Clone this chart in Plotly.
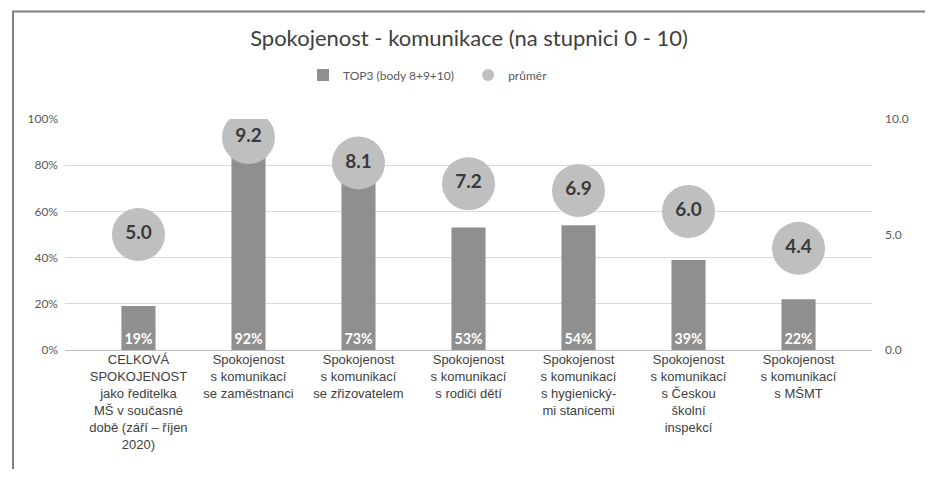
import plotly.graph_objects as go

categories = [
    "CELKOVÁ<br>SPOKOJENOST<br>jako ředitelka<br>MŠ v současné<br>době (září – říjen<br>2020)",
    "Spokojenost<br>s komunikací<br>se zaměstnanci",
    "Spokojenost<br>s komunikací<br>se zřizovatelem",
    "Spokojenost<br>s komunikací<br>s rodiči dětí",
    "Spokojenost<br>s komunikací<br>s hygienický-<br>mi stanicemi",
    "Spokojenost<br>s komunikací<br>s Českou<br>školní<br>inspekcí",
    "Spokojenost<br>s komunikací<br>s MŠMT",
]
top3 = [0.19, 0.92, 0.73, 0.53, 0.54, 0.39, 0.22]
prumer = [5.0, 9.2, 8.1, 7.2, 6.9, 6.0, 4.4]

# page body has an 8px margin; work in reference (viewport) pixels
OFF = 8
VW, VH = 933, 477
W, H = VW - 2 * OFF, VH - 2 * OFF
# plot area in viewport pixels
PL, PR, PT, PB = 65, 872, 119, 350
ml, mr, mt, mb = PL - OFF, W - (PR - OFF), PT - OFF, H - (PB - OFF)
pw, ph = PR - PL, PB - PT

def px(x):
    return (x - PL) / pw

def py(y):
    return (PB - y) / ph

fig = go.Figure()
fig.add_trace(go.Bar(
    x=categories, y=top3, name="TOP3 (body 8+9+10)\u00a0\u00a0\u00a0",
    marker=dict(color="#8f8f8f", line=dict(width=0)),
    width=0.31,
    text=[f"{round(v*100)}%" for v in top3],
    textposition="inside", insidetextanchor="start",
    textfont=dict(family="Lato", size=15, color="white", weight="bold"),
    textangle=0,
    yaxis="y",
    hoverinfo="skip",
))
fig.add_trace(go.Scatter(
    x=categories, y=prumer, name="průměr",
    mode="markers+text",
    marker=dict(color="#bfbfbf", size=53, line=dict(width=0)),
    text=[f"{v:.1f}" for v in prumer],
    textposition="middle center",
    textfont=dict(family="Lato", size=19, color="#3a3a3a", weight="bold"),
    yaxis="y2",
    hoverinfo="skip",
))

fig.update_layout(
    width=W, height=H,
    margin=dict(l=ml, r=mr, t=mt, b=mb, autoexpand=False),
    paper_bgcolor="white", plot_bgcolor="white",
    title=dict(text="Spokojenost - komunikace (na stupnici 0 - 10)",
               x=px(469), xref="paper", xanchor="center", y=1 - (38 - OFF) / H, yanchor="middle",
               font=dict(family="Lato", size=22, color="#404040")),
    legend=dict(orientation="h", x=px(303), xanchor="left", y=py(75), yanchor="middle",
                font=dict(family="Lato", size=12, color="#595959"),
                itemsizing="constant", traceorder="normal", itemwidth=30),
    showlegend=True,
    bargap=0.69,
    xaxis=dict(tickfont=dict(family="Liberation Sans", size=13, color="#404040"),
               showline=False, ticks="", showgrid=False, automargin=False),
    yaxis=dict(range=[0, 1], dtick=0.2, tickformat=".0%",
               gridcolor="#d9d9d9", gridwidth=1,
               tickfont=dict(family="Lato", size=12, color="#595959"),
               zeroline=True, zerolinecolor="#bfbfbf", zerolinewidth=1,
               ticks="", ticklabelstandoff=6, automargin=False),
    yaxis2=dict(range=[0, 10], dtick=5, tickformat=".1f", overlaying="y", side="right",
                showgrid=False, zeroline=False, ticklabelstandoff=12, automargin=False,
                tickfont=dict(family="Lato", size=12, color="#595959")),
    shapes=[dict(type="rect", xref="paper", yref="paper",
                 x0=px(13), x1=px(929), y0=py(11.5), y1=py(VH + 20),
                 line=dict(color="#7f7f7f", width=2), fillcolor="rgba(0,0,0,0)",
                 layer="below")],
)
fig.write_html("out.html")
